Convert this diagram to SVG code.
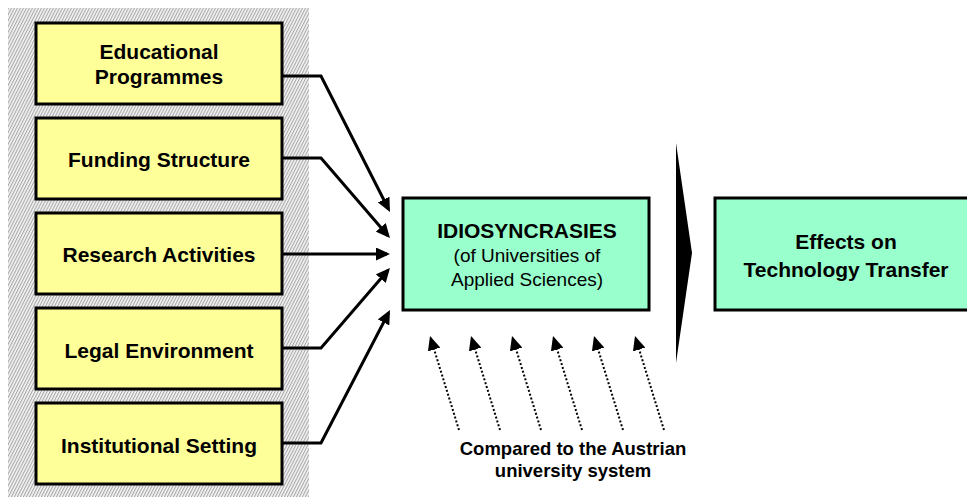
<svg xmlns="http://www.w3.org/2000/svg" width="967" height="497" viewBox="0 0 967 497">
<style>
.t{font-family:"Liberation Sans",Arial,sans-serif;fill:#000;text-anchor:middle}
.b{font-weight:bold;font-size:21px}
.r{font-size:19px}
.s{font-weight:bold;font-size:18.5px}
.yb{fill:#FFFF99;stroke:#000;stroke-width:3}
.gb{fill:#99FFCC;stroke:#000;stroke-width:3}
.c{fill:none;stroke:#000;stroke-width:3;marker-end:url(#ah)}
.d{fill:none;stroke:#000;stroke-width:2;stroke-dasharray:2 2;marker-end:url(#ad)}
</style>
<defs>
<pattern id="hatch" patternUnits="userSpaceOnUse" width="3" height="3" patternTransform="skewX(-27)">
<rect width="3" height="3" fill="#f4f4f4"/>
<rect width="1.2" height="3" fill="#a8a8a8"/>
</pattern>
<marker id="ah" markerUnits="userSpaceOnUse" markerWidth="15" markerHeight="13" refX="11" refY="6.5" orient="auto">
<path d="M0,0 L14,6.5 L0,13 z" fill="#000"/>
</marker>
<marker id="ad" markerUnits="userSpaceOnUse" markerWidth="15" markerHeight="13" refX="12" refY="6.5" orient="auto">
<path d="M0,0 L14,6.5 L0,13 z" fill="#000"/>
</marker>
</defs>
<rect x="8" y="8" width="301" height="489" fill="url(#hatch)"/>
<g id="connectors">
<polyline class="c" points="282,76 321,76 388.6,209.3"/>
<polyline class="c" points="282,158 321,158 388,235.7"/>
<polyline class="c" points="282,254 387,254"/>
<polyline class="c" points="282,348 321,348 388,270.3"/>
<polyline class="c" points="282,443 321,443 388.6,312.7"/>
<line class="d" x1="459" y1="430" x2="430.6" y2="338"/>
<line class="d" x1="500" y1="430" x2="471.6" y2="338"/>
<line class="d" x1="541" y1="430" x2="512.6" y2="338"/>
<line class="d" x1="582" y1="430" x2="553.6" y2="338"/>
<line class="d" x1="623" y1="430" x2="594.6" y2="338"/>
<line class="d" x1="664" y1="430" x2="635.6" y2="338"/>
<polygon points="676,143 692,253 676,363" fill="#000"/>
</g>
<g id="n1">
<rect class="yb" x="36" y="23" width="246" height="81"/>
<text class="t b" x="159" y="59">Educational</text>
<text class="t b" x="159" y="84">Programmes</text>
</g>
<g id="n2">
<rect class="yb" x="36" y="118" width="246" height="81"/>
<text class="t b" x="159" y="167">Funding Structure</text>
</g>
<g id="n3">
<rect class="yb" x="36" y="213" width="246" height="81"/>
<text class="t b" x="159" y="262">Research Activities</text>
</g>
<g id="n4">
<rect class="yb" x="36" y="308" width="246" height="81"/>
<text class="t b" x="159" y="358">Legal Environment</text>
</g>
<g id="n5">
<rect class="yb" x="36" y="403" width="246" height="81"/>
<text class="t b" x="159" y="453">Institutional Setting</text>
</g>
<g id="idio">
<rect class="gb" x="403" y="198" width="246" height="112"/>
<text class="t b" x="527" y="238">IDIOSYNCRASIES</text>
<text class="t r" x="527" y="262">(of Universities of</text>
<text class="t r" x="527" y="286">Applied Sciences)</text>
</g>
<g id="effects">
<rect class="gb" x="715" y="198" width="262" height="112"/>
<text class="t b" x="846" y="249">Effects on</text>
<text class="t b" x="846" y="277">Technology Transfer</text>
</g>
<g id="compared">
<text class="t s" x="573" y="455">Compared to the Austrian</text>
<text class="t s" x="573" y="477">university system</text>
</g>
</svg>
